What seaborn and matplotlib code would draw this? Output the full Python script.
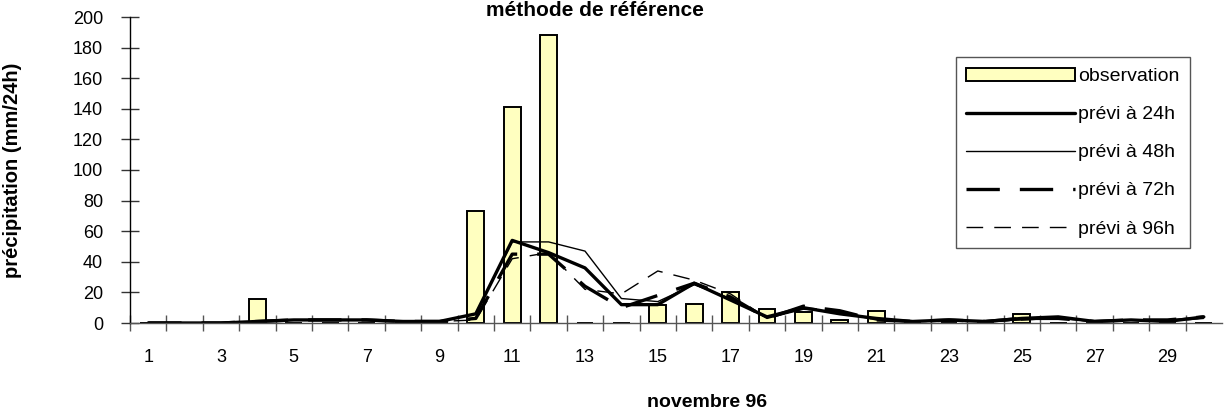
import matplotlib
matplotlib.use('Agg')
import matplotlib.pyplot as plt
import seaborn as sns
import pandas as pd
from matplotlib.patches import Patch
from matplotlib.lines import Line2D

# novembre 96, jours 1..30
days = list(range(1, 31))
observation = [0, 0, 0, 16, 0, 0, 0, 0, 0, 73,
               141, 188, 0, 0, 12, 12.5, 20.5, 9, 7, 2,
               8, 0, 0, 0, 6, 0, 0, 0, 0, 0]
prevision_24h = [0, 0, 0, 1, 2, 2, 2, 1, 1, 6,
                 54, 46, 36, 12, 12, 26, 15, 4, 10, 6,
                 3, 1, 2, 1, 3, 4, 1, 2, 1, 4]
prevision_48h = [0, 0, 0, 1, 2, 2, 2, 1, 1, 6,
                 53, 53, 47, 16, 14, 25, 16, 3, 9, 7,
                 2, 1, 2, 1, 2, 3, 1, 2, 2, 4]
prevision_72h = [0, 0, 0, 1, 2, 2, 2, 1, 1, 3,
                 45, 45, 24, 10, 18, 26, 17, 3, 11, 8,
                 2, 1, 2, 1, 3, 3, 1, 2, 2, 4]
prevision_96h = [0, 0, 0, 1, 2, 2, 2, 1, 1, 2,
                 42, 46, 22, 19, 34, 28, 19, 3, 10, 8,
                 2, 1, 1, 1, 2, 3, 1, 2, 1, 3]
x_labels = [str(d) for d in range(1, 30, 2)]

sns.set_style('white')
plt.rcParams['font.family'] = ['Liberation Sans', 'DejaVu Sans']
plt.rcParams['text.color'] = 'black'
plt.rcParams['axes.labelcolor'] = 'black'
plt.rcParams['xtick.labelcolor'] = 'black'
plt.rcParams['ytick.labelcolor'] = 'black'

fig = plt.figure(figsize=(12.25, 4.16), dpi=100)
ax = fig.add_axes([130 / 1225, 1 - 323 / 416, 1092 / 1225, 306 / 416])

df = pd.DataFrame({'jour': days, 'obs': observation})
sns.barplot(data=df, x='jour', y='obs', native_scale=True, width=0.46,
            color='#ffffc0', saturation=1, edgecolor='black', linewidth=1.4, ax=ax)

series = [
    (prevision_24h, dict(lw=2.4, ls='-')),
    (prevision_48h, dict(lw=1.0, ls='-')),
    (prevision_72h, dict(lw=2.4, dashes=(10, 6))),
    (prevision_96h, dict(lw=1.0, dashes=(12, 8))),
]
for vals, st in series:
    kw = dict(st)
    dashes = kw.pop('dashes', None)
    line = sns.lineplot(x=days, y=vals, color='black', ax=ax, **kw).lines[-1]
    if dashes is not None:
        line.set_dashes(dashes)

ax.set_xlim(0.5, 30.5)
ax.set_ylim(0, 200)
ax.set_yticks(range(0, 201, 20))
ax.set_xticks(range(1, 30, 2))
ax.set_xticklabels(x_labels)
ax.set_xticks([d + 0.5 for d in range(0, 30)], minor=True)
ax.tick_params(axis='x', which='major', length=0, pad=19, labelsize=13)
ax.tick_params(axis='x', which='minor', length=11, width=1, direction='inout',
               color='#555555', bottom=True)
ax.tick_params(axis='y', length=13, width=1, direction='inout', pad=13,
               labelsize=13, color='#333333', left=True)

for s in ['top', 'right']:
    ax.spines[s].set_visible(False)
ax.spines['left'].set_color('black')
ax.spines['left'].set_linewidth(1)
ax.spines['bottom'].set_color('#555555')
ax.spines['bottom'].set_linewidth(1)

ax.set_ylabel('précipitation (mm/24h)', fontsize=14.5, fontweight='bold')
ax.yaxis.set_label_coords(-0.099, 0.5)
ax.set_xlabel('novembre 96', fontsize=14, fontweight='bold')
ax.xaxis.label.set_va('center')
ax.xaxis.set_label_coords(0.528, -0.261)

fig.text(595 / 1225, 1 - 1 / 416, 'méthode de référence', fontsize=15,
         fontweight='bold', ha='center', va='top')

handles = [
    Patch(facecolor='#ffffc0', edgecolor='black', linewidth=1.4),
    Line2D([], [], color='black', lw=2.4),
    Line2D([], [], color='black', lw=1.0),
    Line2D([], [], color='black', lw=2.4, dashes=(10, 6)),
    Line2D([], [], color='black', lw=1.0, dashes=(12, 8)),
]
labels = ['observation', 'prévi à 24h', 'prévi à 48h', 'prévi à 72h', 'prévi à 96h']
leg = ax.legend(handles, labels, loc='upper right', bbox_to_anchor=(0.971, 0.869),
                fontsize=14, handlelength=5.6, handletextpad=0.15, labelspacing=1.05,
                borderpad=0.55, frameon=True, fancybox=False, framealpha=1,
                borderaxespad=0)
leg.get_frame().set_edgecolor('#555555')
leg.get_frame().set_linewidth(1)

fig.savefig('out.png', dpi=100)
